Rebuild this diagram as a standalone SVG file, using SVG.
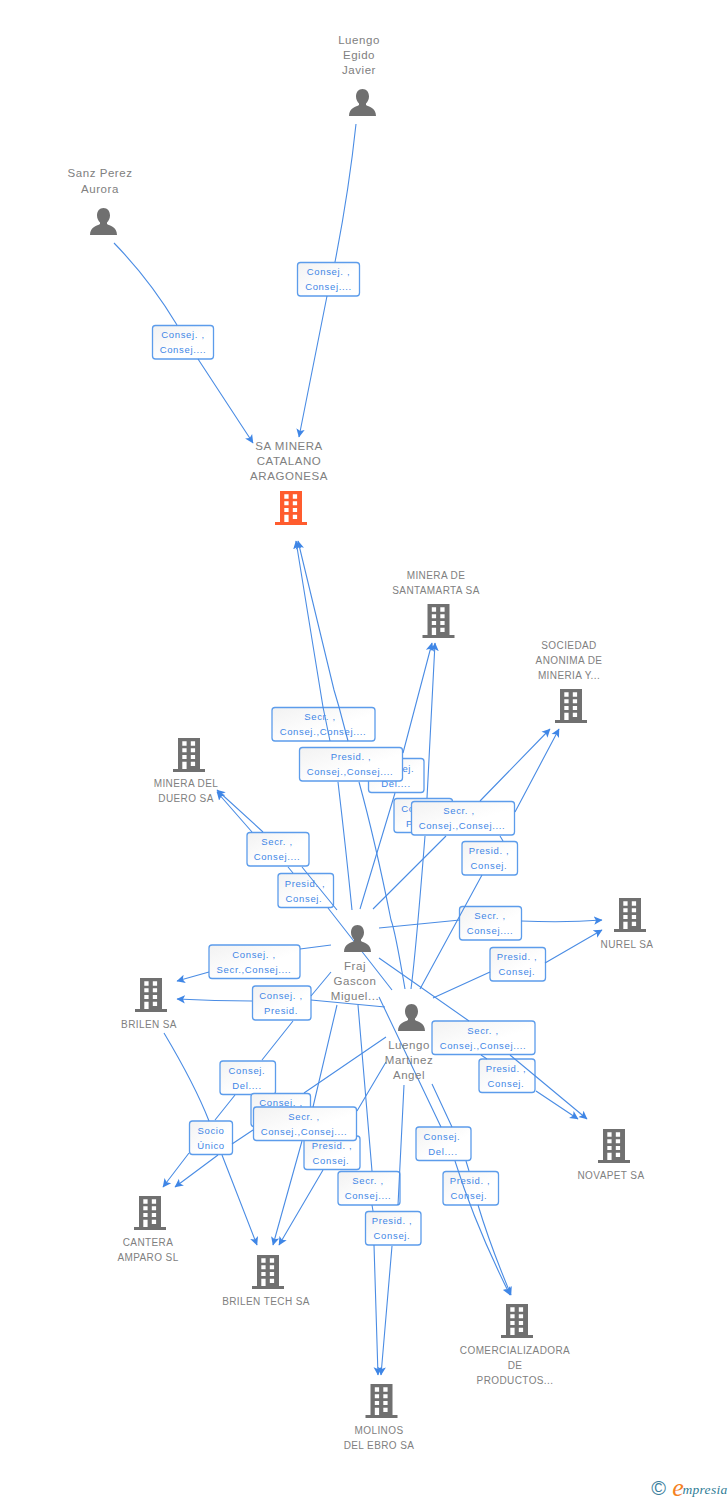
<svg xmlns="http://www.w3.org/2000/svg" width="728" height="1500" viewBox="0 0 728 1500">
<style>
text{font-family:"Liberation Sans",Arial,sans-serif;text-anchor:middle}
.n{font-size:11.5px;fill:#808080;letter-spacing:.55px}
.c{font-size:10px;fill:#808080;letter-spacing:.4px}
.l{font-size:9.5px;fill:#3f86e6;letter-spacing:.65px}
.b{fill:url(#g);stroke:#5c9ceb;stroke-width:1.3}
.e{fill:none;stroke:#4a8ce4;stroke-width:1.1;marker-end:url(#a)}
.i{fill:#707070}
</style>
<defs>
<linearGradient id="g" x1="0" y1="0" x2="1" y2="1"><stop offset="0" stop-color="#f2f2f2"/><stop offset=".6" stop-color="#fff"/></linearGradient>
<marker id="a" markerUnits="userSpaceOnUse" markerWidth="12" markerHeight="12" refX="8" refY="5" orient="auto"><path d="M0 .8L8.500 5L0 9.200L2 5Z" fill="#3f86e6"/></marker>
<path id="bld" fill-rule="evenodd" d="M-11 0H11V31H16V34H-16V31H-11ZM-6.700 3.300V7.700H-2.400V3.300ZM1.800 3.300V7.700H6.100V3.300ZM-6.700 10.300V14.300H-2.400V10.300ZM1.800 10.300V14.300H6.100V10.300ZM-6.700 17V21H-2.400V17ZM1.800 17V21H6.100V17ZM-6.700 23.700V31H-2.400V23.700ZM1.800 23.700V28H6.100V23.700Z"/>
<path id="per" d="M0 0C4 0 6.500 3 6.500 7.500C6.500 10.500 5 13 3.500 14.500V16C6 18 13.500 18.500 13.500 27H-13.500C-13.500 18.500 -6 18 -3.500 16V14.500C-5 13 -6.500 10.500 -6.500 7.500C-6.500 3 -4 0 0 0Z"/>
</defs>
<rect width="728" height="1500" fill="#fff"/>
<g id="labels">
<g id="lb1"><rect class="b" x="297.500" y="262.500" width="62" height="33.500" rx="3"/><text class="l" x="328.500" y="275">Consej. ,</text><text class="l" x="328.500" y="290">Consej....</text></g>
<g id="lb2"><rect class="b" x="152.500" y="325.500" width="61" height="33.500" rx="3"/><text class="l" x="183" y="338">Consej. ,</text><text class="l" x="183" y="353">Consej....</text></g>
<g id="lb3"><rect class="b" x="368.500" y="758.500" width="55.500" height="34" rx="3"/><text class="l" x="396" y="772">Consej.</text><text class="l" x="396" y="787">Del....</text></g>
<g id="lb4"><rect class="b" x="394" y="798.500" width="58.500" height="34" rx="3"/><text class="l" x="423" y="812">Consej. ,</text><text class="l" x="423" y="827">Presid.</text></g>
<g id="lb5"><rect class="b" x="272" y="707.500" width="103" height="33.500" rx="3"/><text class="l" x="320" y="720">Secr. ,</text><text class="l" x="323" y="735">Consej.,Consej....</text></g>
<g id="lb6"><rect class="b" x="299.500" y="747.500" width="103" height="33.500" rx="3"/><text class="l" x="351" y="760">Presid. ,</text><text class="l" x="350" y="775">Consej.,Consej....</text></g>
<g id="lb7"><rect class="b" x="411.500" y="801.500" width="103" height="33.500" rx="3"/><text class="l" x="459" y="814">Secr. ,</text><text class="l" x="462" y="829">Consej.,Consej....</text></g>
<g id="lb8"><rect class="b" x="462" y="841.500" width="55.500" height="33.500" rx="3"/><text class="l" x="489" y="854">Presid. ,</text><text class="l" x="489" y="869">Consej.</text></g>
<g id="lb9"><rect class="b" x="247" y="832.500" width="62" height="33.500" rx="3"/><text class="l" x="277" y="845">Secr. ,</text><text class="l" x="277" y="860">Consej....</text></g>
<g id="lb10"><rect class="b" x="278" y="873.500" width="55.500" height="34" rx="3"/><text class="l" x="305" y="887">Presid. ,</text><text class="l" x="304" y="902">Consej.</text></g>
<g id="lb11"><rect class="b" x="459.500" y="906.500" width="62" height="33.500" rx="3"/><text class="l" x="490" y="919">Secr. ,</text><text class="l" x="490" y="934">Consej....</text></g>
<g id="lb12"><rect class="b" x="490" y="947.500" width="55.500" height="33.500" rx="3"/><text class="l" x="517" y="960">Presid. ,</text><text class="l" x="517" y="975">Consej.</text></g>
<g id="lb13"><rect class="b" x="209" y="945" width="91" height="33.500" rx="3"/><text class="l" x="254" y="958">Consej. ,</text><text class="l" x="254" y="973">Secr.,Consej....</text></g>
<g id="lb14"><rect class="b" x="252.500" y="986" width="58.500" height="34" rx="3"/><text class="l" x="281" y="999">Consej. ,</text><text class="l" x="281" y="1014">Presid.</text></g>
<g id="lb15"><rect class="b" x="220" y="1061" width="55.500" height="33.500" rx="3"/><text class="l" x="247" y="1074">Consej.</text><text class="l" x="247" y="1089">Del....</text></g>
<g id="lb16"><rect class="b" x="251" y="1093.500" width="59.500" height="33" rx="3"/><text class="l" x="281" y="1106">Consej. ,</text></g>
<g id="lb17"><rect class="b" x="304" y="1136" width="56" height="33.500" rx="3"/><text class="l" x="332" y="1149">Presid. ,</text><text class="l" x="331" y="1164">Consej.</text></g>
<g id="lb18"><rect class="b" x="253.500" y="1107" width="103" height="33.500" rx="3"/><text class="l" x="304" y="1120">Secr. ,</text><text class="l" x="304" y="1135">Consej.,Consej....</text></g>
<g id="lb19"><rect class="b" x="189.500" y="1121" width="43" height="33.500" rx="3"/><text class="l" x="211" y="1134">Socio</text><text class="l" x="211" y="1149">Único</text></g>
<g id="lb20"><rect class="b" x="338" y="1171.500" width="62" height="33.500" rx="3"/><text class="l" x="368" y="1184">Secr. ,</text><text class="l" x="368" y="1199">Consej....</text></g>
<g id="lb21"><rect class="b" x="365.500" y="1211.500" width="55.500" height="33.500" rx="3"/><text class="l" x="392" y="1224">Presid. ,</text><text class="l" x="392" y="1239">Consej.</text></g>
<g id="lb22"><rect class="b" x="416" y="1127" width="55" height="33.500" rx="3"/><text class="l" x="442" y="1140">Consej.</text><text class="l" x="443" y="1155">Del....</text></g>
<g id="lb23"><rect class="b" x="443" y="1171.500" width="55.500" height="33.500" rx="3"/><text class="l" x="470" y="1184">Presid. ,</text><text class="l" x="469" y="1199">Consej.</text></g>
<g id="lb24"><rect class="b" x="432" y="1021" width="103" height="33.500" rx="3"/><text class="l" x="483" y="1034">Secr. ,</text><text class="l" x="483" y="1049">Consej.,Consej....</text></g>
<g id="lb25"><rect class="b" x="479" y="1059" width="56" height="33.500" rx="3"/><text class="l" x="506" y="1072">Presid. ,</text><text class="l" x="506" y="1087">Consej.</text></g>
</g>
<g id="connectors">
<path class="e" d="M356 124Q349 190 335 262M327 296Q312 370 299 437"/>
<path class="e" d="M114 243Q150 280 177 325M198 359L253 443"/>
<path class="e" d="M352 910Q346 850 338 782M330 741L323 707L296 541"/>
<path class="e" d="M405 989Q395 930 391 920Q375 840 359 782M348 741L339 707L334 690L298 541"/>
<path class="e" d="M360 909L395 793M403 753L432 643"/>
<path class="e" d="M411 989Q416 950 425 836M427 798L435 643"/>
<path class="e" d="M373 909L446 836M480 801L550 729"/>
<path class="e" d="M420 989L482 875M500 836L503 841M515 812L559 729"/>
<path class="e" d="M337 910L302 867M263 832L217 790"/>
<path class="e" d="M392 990L328 908M293 873L288 867M252 832L217 792"/>
<path class="e" d="M379 928L460 920M521 921Q565 923 602 920"/>
<path class="e" d="M433 998L490 972M545 963L602 930"/>
<path class="e" d="M331 945L300 949M209 972L177 981"/>
<path class="e" d="M385 1007L311 1000M252 1001Q215 1001 177 999"/>
<path class="e" d="M164 1033Q195 1085 209 1121M222 1155L257 1245"/>
<path class="e" d="M331 972L311 996M293 1021L262 1060M235 1095L215 1120M189 1153L163 1187"/>
<path class="e" d="M386 1037L304 1093M253 1130L232 1144M218 1155L175 1187"/>
<path class="e" d="M337 1005L313 1107M302 1141L273 1245"/>
<path class="e" d="M386 1062L357 1111M323 1170L279 1245"/>
<path class="e" d="M358 1005L372 1171M372 1205L373 1211M374 1245L378 1375"/>
<path class="e" d="M404 1085L398 1205M392 1246L381 1375"/>
<path class="e" d="M379 997L441 1127M455 1161Q475 1225 510 1295"/>
<path class="e" d="M432 1084L452 1127M466 1161L469 1171M478 1205Q490 1245 511 1295"/>
<path class="e" d="M379 958L469 1021M510 1055L587 1119"/>
<path class="e" d="M481 1055L487 1059M536 1091L578 1119"/>
</g>
<g id="n-sanz"><use href="#per" x="103.500" y="208" class="i"/><text class="n" x="100" y="177">Sanz Perez</text><text class="n" x="100" y="192.500">Aurora</text></g>
<g id="n-egido"><use href="#per" x="362.500" y="89" class="i"/><text class="n" x="359" y="44">Luengo</text><text class="n" x="359" y="59">Egido</text><text class="n" x="359" y="74">Javier</text></g>
<g id="n-sa"><use href="#bld" x="291" y="491" fill="#ff5c2e"/><text class="n" x="289" y="450">SA MINERA</text><text class="n" x="289" y="465">CATALANO</text><text class="n" x="289" y="480">ARAGONESA</text></g>
<g id="n-santamarta"><use href="#bld" x="438.500" y="604" class="i"/><text class="c" x="436" y="579">MINERA DE</text><text class="c" x="436" y="594">SANTAMARTA SA</text></g>
<g id="n-sociedad"><use href="#bld" x="571" y="689" class="i"/><text class="c" x="569" y="649">SOCIEDAD</text><text class="c" x="569" y="664">ANONIMA DE</text><text class="c" x="569" y="679">MINERIA Y...</text></g>
<g id="n-duero"><use href="#bld" x="189" y="738" class="i"/><text class="c" x="186" y="787">MINERA DEL</text><text class="c" x="186" y="802">DUERO SA</text></g>
<g id="n-nurel"><use href="#bld" x="630" y="898" class="i"/><text class="c" x="627" y="948">NUREL SA</text></g>
<g id="n-brilen"><use href="#bld" x="151" y="978" class="i"/><text class="c" x="149" y="1028">BRILEN SA</text></g>
<g id="n-novapet"><use href="#bld" x="614" y="1129" class="i"/><text class="c" x="611" y="1179">NOVAPET SA</text></g>
<g id="n-cantera"><use href="#bld" x="150" y="1196" class="i"/><text class="c" x="148" y="1246">CANTERA</text><text class="c" x="148" y="1261">AMPARO SL</text></g>
<g id="n-brilentech"><use href="#bld" x="268" y="1255" class="i"/><text class="c" x="266" y="1305">BRILEN TECH SA</text></g>
<g id="n-comer"><use href="#bld" x="517" y="1304" class="i"/><text class="c" x="515" y="1354">COMERCIALIZADORA</text><text class="c" x="515" y="1369">DE</text><text class="c" x="515" y="1384">PRODUCTOS...</text></g>
<g id="n-molinos"><use href="#bld" x="381.500" y="1384" class="i"/><text class="c" x="379" y="1434">MOLINOS</text><text class="c" x="379" y="1449">DEL EBRO SA</text></g>
<g id="n-fraj"><use href="#per" x="357.500" y="925" class="i"/><text class="n" x="355" y="970">Fraj</text><text class="n" x="355" y="985">Gascon</text><text class="n" x="355" y="1000">Miguel...</text></g>
<g id="n-luengo"><use href="#per" x="411.500" y="1004" class="i"/><text class="n" x="409" y="1049">Luengo</text><text class="n" x="409" y="1064">Martinez</text><text class="n" x="409" y="1079">Angel</text></g>
<g id="credit"><text x="658.500" y="1495" style="font-size:20px;fill:#3d7f9e">©</text><text x="678" y="1496" style="font-family:'Liberation Serif',serif;font-style:italic;font-size:26px;fill:#f5821f">e</text><text x="705" y="1494" style="font-family:'Liberation Serif',serif;font-style:italic;font-size:13.500px;fill:#2f7d96;letter-spacing:.3px">mpresia</text></g>
</svg>
